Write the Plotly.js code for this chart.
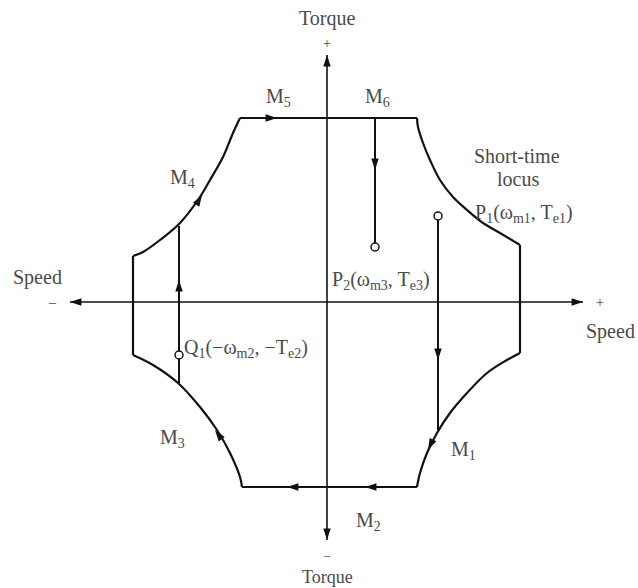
<!DOCTYPE html>
<html>
<head>
<meta charset="utf-8">
<script src="https://cdn.plot.ly/plotly-3.0.1.min.js"></script>
<style>
  html, body { margin: 0; padding: 0; background: #fff; }
  #chart { width: 638px; height: 588px; }
</style>
</head>
<body>
<div id="chart"></div>
<script>
// Speed (ω) and torque (T) of the short-time operating locus, in chart units.
// Each corner curve is listed clockwise; straight edges join consecutive curves.
const cornerTR_speed  = [9.0, 9.1, 9.6, 10.3, 11.3, 12.6, 14.0, 15.6, 17.3, 19.3];
const cornerTR_torque = [18.4, 17.5, 15.9, 14.2, 12.2, 10.5, 9.2, 7.9, 6.9, 5.7];

const cornerBR_speed  = [19.3, 18.0, 16.0, 14.0, 12.3, 11.0, 10.0, 9.3, 9.0];
const cornerBR_torque = [-5.1, -5.8, -7.1, -9.1, -11.1, -13.1, -15.1, -17.1, -18.5];

const cornerBL_speed  = [-8.5, -8.7, -9.7, -11.0, -12.7, -14.9, -17.4, -19.4];
const cornerBL_torque = [-18.5, -17.5, -15.1, -12.8, -10.5, -8.1, -6.3, -5.3];

const cornerTL_speed  = [-19.4, -18.4, -16.7, -14.7, -12.7, -11.7, -10.4, -9.4, -8.7];
const cornerTL_torque = [4.6, 5.0, 6.2, 7.9, 10.5, 12.2, 14.5, 16.9, 18.4];

// Operating points and the transitions drawn from them
const pointNames  = ['P1', 'P2', 'Q1'];
const pointSpeed  = [11.1, 4.8, -14.8];
const pointTorque = [8.6, 5.5, -5.3];

// M6: from the torque limit down to P2; P1 down to the locus; Q1 up across the locus
const pathM6_speed = [4.8, 4.8],     pathM6_torque = [18.4, 5.5];
const pathP1_speed = [11.1, 11.1],   pathP1_torque = [8.6, -12.8];
const pathQ1_speed = [-14.8, -14.8], pathQ1_torque = [-8.1, 7.6];

// Direction arrows along the paths (tip position, heading in degrees clockwise from up)
const arrowSpeed   = [-5.0, 4.8, 11.1, 10.1, 3.8, -4.0, -11.2, -14.8, -12.5];
const arrowTorque  = [18.4, 13.2, -5.8, -14.8, -18.5, -18.5, -12.8, 2.2, 10.7];
const arrowHeading = [90, 180, 180, 206, 270, 270, 324, 0, 31];

// Axis extents
const speedAxisEnds  = [-25.7, 25.6];
const torqueAxisEnds = [-23.8, 24.7];

const ink = '#111';
const textInk = '#4a4a4a';
const serif = 'Liberation Serif, Times New Roman, serif';

const first = a => a[0];
const last = a => a[a.length - 1];

const seg = (x, y, w, shape) => ({
  type: 'scatter', mode: 'lines', x: x, y: y, hoverinfo: 'skip',
  line: { color: ink, width: w || 2, shape: shape || 'linear', smoothing: 1 }
});

const corners = [
  [cornerTR_speed, cornerTR_torque],
  [cornerBR_speed, cornerBR_torque],
  [cornerBL_speed, cornerBL_torque],
  [cornerTL_speed, cornerTL_torque]
];

const traces = [
  // axes
  seg(speedAxisEnds, [0, 0], 1.6),
  seg([0, 0], torqueAxisEnds, 1.6)
];

// locus: smooth corner curves joined by straight edges
corners.forEach((c, i) => {
  const next = corners[(i + 1) % corners.length];
  traces.push(seg(c[0], c[1], 2.2, 'spline'));
  traces.push(seg([last(c[0]), first(next[0])], [last(c[1]), first(next[1])], 2.2));
});

traces.push(
  // transitions
  seg(pathM6_speed, pathM6_torque, 2),
  seg(pathP1_speed, pathP1_torque, 2),
  seg(pathQ1_speed, pathQ1_torque, 2),
  // axis arrowheads
  {
    type: 'scatter', mode: 'markers', hoverinfo: 'skip',
    x: [speedAxisEnds[1], speedAxisEnds[0], 0, 0],
    y: [0, 0, torqueAxisEnds[1], torqueAxisEnds[0]],
    marker: { symbol: 'arrow', size: 12, color: ink, angle: [90, 270, 0, 180], line: { width: 0 } }
  },
  // path arrowheads
  {
    type: 'scatter', mode: 'markers', hoverinfo: 'skip',
    x: arrowSpeed, y: arrowTorque,
    marker: { symbol: 'arrow', size: 12, color: ink, angle: arrowHeading, line: { width: 0 } }
  },
  // operating points
  {
    type: 'scatter', mode: 'markers', hoverinfo: 'skip',
    x: pointSpeed, y: pointTorque, text: pointNames,
    marker: { symbol: 'circle', size: 8, color: '#fff', line: { color: ink, width: 1.5 } }
  }
);

const lab = (x, y, text, anchor, size) => ({
  x: x, y: y, text: text, showarrow: false,
  xanchor: anchor || 'center', yanchor: 'middle',
  font: { family: serif, size: size || 20, color: textInk }
});

const annotations = [
  lab(0, 28.4, 'Torque'),
  lab(0, 25.9, '+', 'center', 14),
  lab(0, -25.3, '–', 'center', 12),
  lab(0, -27.5, 'Torque', 'center', 18),
  lab(-29.0, 2.5, 'Speed'),
  lab(-27.5, 0, '–', 'center', 14),
  lab(27.3, 0, '+', 'center', 14),
  lab(28.3, -2.9, 'Speed'),
  lab(-4.9, 20.5, 'M<sub>5</sub>'),
  lab(5.0, 20.5, 'M<sub>6</sub>'),
  lab(-14.5, 12.4, 'M<sub>4</sub>'),
  lab(-15.5, -13.6, 'M<sub>3</sub>'),
  lab(13.6, -14.8, 'M<sub>1</sub>'),
  lab(4.1, -21.9, 'M<sub>2</sub>'),
  lab(19.0, 14.6, 'Short-time'),
  lab(19.1, 12.3, 'locus'),
  lab(14.6, 8.9, 'P<sub>1</sub>(ω<sub>m1</sub>, T<sub>e1</sub>)', 'left'),
  lab(0.3, 2.2, 'P<sub>2</sub>(ω<sub>m3</sub>, T<sub>e3</sub>)', 'left'),
  lab(-14.5, -4.6, 'Q<sub>1</sub>(−ω<sub>m2</sub>, −T<sub>e2</sub>)', 'left')
];

const layout = {
  width: 638, height: 588,
  margin: { l: 0, r: 0, t: 0, b: 0 },
  paper_bgcolor: '#fff', plot_bgcolor: '#fff',
  showlegend: false,
  xaxis: { range: [-32.7, 31.1], visible: false, fixedrange: true },
  yaxis: { range: [-28.6, 30.2], visible: false, fixedrange: true },
  annotations: annotations
};

Plotly.newPlot('chart', traces, layout, { staticPlot: true, displayModeBar: false });
</script>
</body>
</html>
